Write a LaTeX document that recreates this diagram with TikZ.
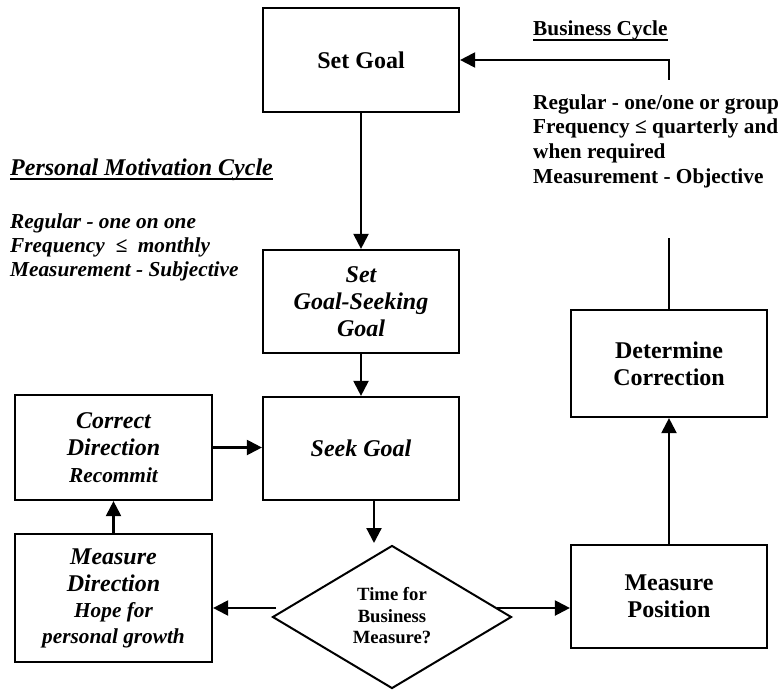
\documentclass[tikz,border=0pt]{standalone}
\usepackage{fontspec}
\setmainfont{Liberation Serif}
\usetikzlibrary{arrows.meta,shapes.geometric}
\newcommand\myL{\fontsize{24}{27}\selectfont}
\newcommand\myM{\fontsize{21.3}{26}\selectfont}
\newcommand\myS{\fontsize{18.67}{21.7}\selectfont}
\tikzset{
  box/.style={draw, line width=2.2pt, inner sep=0pt, align=center, font=\bfseries},
  dec/.style={draw, diamond, line width=2pt, inner sep=0pt, align=center, font=\bfseries\myS,
              minimum width=239pt, minimum height=143pt, aspect=1.67},
  arr/.style={line width=2.2pt, -{Triangle[length=15pt,width=15pt]}},
  ln/.style={line width=2.2pt},
  txt/.style={inner sep=0pt, anchor=base west},
}
\begin{document}
\begin{tikzpicture}[x=1pt,y=-1pt]
\useasboundingbox (0,0) rectangle (781,690);

% boxes
\node[box, minimum width=196pt, minimum height=104pt, font=\bfseries\myL] (setgoal) at (361,60) {Set Goal};
\node[box, minimum width=196pt, minimum height=103pt, font=\bfseries\itshape\myL] (setgs) at (361,301.5) {Set\\Goal-Seeking\\Goal};
\node[box, minimum width=196pt, minimum height=103pt, font=\bfseries\itshape\myL] (seek) at (361,448.5) {Seek Goal};
\node[box, minimum width=197pt, minimum height=105pt, font=\bfseries\itshape] (correct) at (113.5,447.5)
  {\parbox{190pt}{\centering\myL Correct\\Direction\\\fontsize{21.3}{27}\selectfont Recommit}};
\node[box, minimum width=197pt, minimum height=128pt, font=\bfseries\itshape] (measdir) at (113.5,598)
  {\parbox{190pt}{\centering\myL Measure\\Direction\\\myM Hope for\\personal growth}};
\node[box, minimum width=196pt, minimum height=107pt, font=\bfseries\myL] (detcorr) at (669,363.5) {Determine\\Correction};
\node[box, minimum width=196pt, minimum height=103pt, font=\bfseries\myL] (measpos) at (669,596.5) {Measure\\Position};
\node[dec] (dec) at (392,617) {\raisebox{-3pt}[0pt][0pt]{\parbox{100pt}{\centering Time for\\Business\\Measure?}}};

% connector points
\coordinate (dIn) at (374,543);
\coordinate (dL) at (276,608);
\coordinate (dR) at (497,608);
\coordinate (bcLow) at (669,238);
\coordinate (bcHigh) at (669,80);

% connectors
\draw[arr] (setgoal.south) -- (setgs.north);
\draw[arr] (setgs.south) -- (seek.north);
\draw[arr] (correct.east) -- (correct.east -| seek.west);
\draw[arr] (seek.south -| dIn) -- (dIn);
\draw[arr] (dL) -- (dL -| measdir.east);
\draw[arr] (dR) -- (dR -| measpos.west);
\draw[arr] (measdir.north) -- (correct.south);
\draw[arr] (measpos.north) -- (detcorr.south);
\draw[ln] (detcorr.north) -- (bcLow);
\draw[arr] (bcHigh) |- (setgoal.east);

% business cycle text
\node[txt, font=\bfseries\myM] (bc) at (533,36) {Business Cycle};
\draw[line width=1.5pt] ([yshift=-4pt]bc.base west) -- ([yshift=-4pt]bc.base east);
\node[txt, font=\bfseries\myM] (bc1) at (533,110) {Regular - one/one or group};
\node[txt, font=\bfseries\myM] (bc2) at (533,134) {Frequency ≤ quarterly and};
\node[txt, font=\bfseries\myM] (bc3) at (533,158) {when required};
\node[txt, font=\bfseries\myM] (bc4) at (533,183) {Measurement - Objective};

% personal motivation cycle text
\node[txt, font=\bfseries\itshape\myL] (pmc) at (10,175) {Personal Motivation Cycle};
\draw[line width=2pt] ([yshift=-4pt]pmc.base west) -- ([yshift=-4pt]pmc.base east);
\node[txt, font=\bfseries\itshape\myM] (pm1) at (10,228) {Regular - one on one};
\node[txt, font=\bfseries\itshape\myM] (pm2) at (10,252) {Frequency\ \ ≤\ \ monthly};
\node[txt, font=\bfseries\itshape\myM] (pm3) at (10,276) {Measurement - Subjective};
\end{tikzpicture}
\end{document}
